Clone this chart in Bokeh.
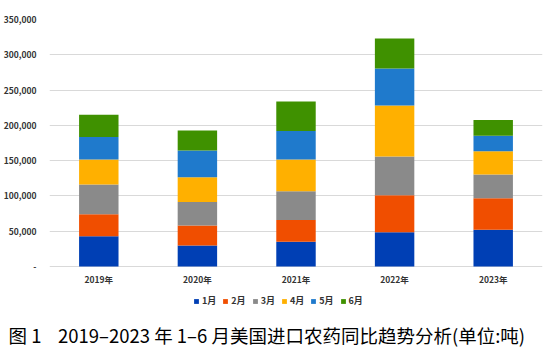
from bokeh.plotting import figure
from bokeh.models import Range1d, FactorRange, Legend, LegendItem, Title, CustomJSTickFormatter, ColumnDataSource
from bokeh.embed import file_html
from bokeh.resources import INLINE

years = ["2019年", "2020年", "2021年", "2022年", "2023年"]
months = ["1月", "2月", "3月", "4月", "5月", "6月"]
jan = [42900, 29800, 35000, 48600, 52000]
feb = [31200, 28300, 31100, 52400, 44800]
mar = [42100, 33500, 40600, 54900, 33600]
apr = [35400, 35000, 44900, 72200, 33000]
may = [32100, 37800, 40600, 52500, 21800]
jun = [31300, 28300, 41600, 42500, 22600]
colors = ["#003FB4", "#F04E00", "#8A8A8A", "#FFB000", "#1F7ACC", "#3F9100"]
caption = "图\u00a01\u00a0\u00a0\u00a0\u00a02019–2023\u00a0年\u00a01–6\u00a0月美国进口农药同比趋势分析(单位:吨)"

src = ColumnDataSource(dict(year=years, m1=jan, m2=feb, m3=mar, m4=apr, m5=may, m6=jun))
keys = ["m1", "m2", "m3", "m4", "m5", "m6"]

p = figure(width=543, height=347, x_range=FactorRange(*years, range_padding=0),
           y_range=Range1d(-75000, 350000), output_backend="svg", toolbar_location=None,
           min_border_left=46, min_border_right=1, min_border_top=19, min_border_bottom=0)
p.outline_line_color = None
rs = p.vbar_stack(keys, x="year", width=0.4, source=src, color=colors, line_color=None)

p.xgrid.grid_line_color = None
p.ygrid.grid_line_color = "#D9D9D9"
p.ygrid.grid_line_width = 1.2
p.yaxis.ticker = [0, 50000, 100000, 150000, 200000, 250000, 300000, 350000]
p.yaxis.formatter = CustomJSTickFormatter(code="return tick == 0 ? '-' : tick.toLocaleString('en-US');")
p.xaxis.fixed_location = 0
for ax in (p.xaxis, p.yaxis):
    ax.axis_line_color = None
    ax.major_tick_line_color = None
    ax.minor_tick_line_color = None
    ax.major_label_text_font = "Noto Sans CJK SC"
    ax.major_label_text_font_size = "8.5px"
    ax.major_label_text_font_style = "bold"
    ax.major_label_text_color = "#333333"
p.yaxis.major_label_standoff = 7
p.xaxis.major_label_standoff = 0

legend = Legend(items=[LegendItem(label=m, renderers=[r]) for m, r in zip(months, rs)],
                orientation="horizontal", location=(144, 12),
                label_text_font="Noto Sans CJK SC", label_text_font_size="9px",
                label_text_font_style="bold", label_text_color="#333333",
                glyph_width=6, glyph_height=6, spacing=6, label_standoff=3,
                padding=0, margin=0, background_fill_alpha=0, border_line_color=None,
                label_height=10, label_width=10)
p.add_layout(legend, "center")

cap = Title(text=caption, align="left", offset=-41, standoff=0,
            text_font="Noto Sans CJK SC", text_font_size="18.5px", text_color="#000000",
            text_font_style="normal")
p.add_layout(cap, "below")

open("out.html", "w").write(file_html(p, INLINE))
